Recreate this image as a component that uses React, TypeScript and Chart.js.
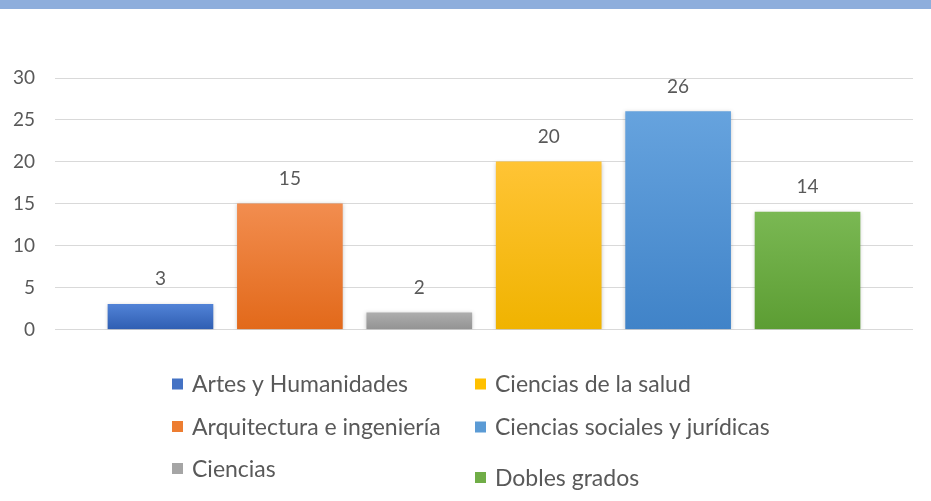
import { useEffect, useRef } from "react";
import { Chart, registerables } from "chart.js";

Chart.register(...registerables);

// ---- data ----
const categories = [
  "Artes y Humanidades",
  "Arquitectura e ingeniería",
  "Ciencias",
  "Ciencias de la salud",
  "Ciencias sociales y jurídicas",
  "Dobles grados",
];
const values = [3, 15, 2, 20, 26, 14];
const yMin = 0;
const yMax = 30;
const yStep = 5;

// ---- styles ----
const baseColors = ["#4472C4", "#ED7D31", "#A5A5A5", "#FFC000", "#5B9BD5", "#70AD47"];
const topColors = ["#5182D6", "#F28D4F", "#ADADAD", "#FFC435", "#66A3DE", "#7AB853"];
const bottomColors = ["#2F5EB2", "#E2691A", "#939393", "#F0B300", "#4083C8", "#5C9D33"];
const legendColumns = [
  [0, 1, 2],
  [3, 4, 5],
];

const FONT = "Lato, 'Open Sans', sans-serif";
const TEXT = "#595959";

const dataLabels = {
  id: "dataLabels",
  afterDatasetsDraw(chart: any) {
    const ctx = chart.ctx;
    const meta = chart.getDatasetMeta(0);
    ctx.save();
    ctx.font = `19px ${FONT}`;
    ctx.fillStyle = TEXT;
    ctx.textAlign = "center";
    ctx.textBaseline = "alphabetic";
    meta.data.forEach((bar: any, i: number) => {
      ctx.fillText(String(values[i]), bar.x, bar.y - 19);
    });
    ctx.restore();
  },
};

const barShadow = {
  id: "barShadow",
  beforeDatasetDraw(chart: any) {
    const ctx = chart.ctx;
    ctx.save();
    ctx.shadowColor = "rgba(0,0,0,0.22)";
    ctx.shadowBlur = 4;
    ctx.shadowOffsetX = 0;
    ctx.shadowOffsetY = 1;
  },
  afterDatasetDraw(chart: any) {
    chart.ctx.restore();
  },
};

const columnLegend = {
  id: "columnLegend",
  afterDraw(chart: any) {
    const ctx = chart.ctx;
    const colX = [172, 475];
    const rowY = [
      [384, 426.5, 468.5],
      [384, 427, 477.5],
    ];
    ctx.save();
    ctx.font = `23px ${FONT}`;
    ctx.textAlign = "left";
    ctx.textBaseline = "alphabetic";
    legendColumns.forEach((col, c) => {
      col.forEach((idx, r) => {
        const cy = rowY[c][r];
        ctx.fillStyle = baseColors[idx];
        ctx.fillRect(colX[c], cy - 5.5, 11, 11);
        ctx.fillStyle = TEXT;
        ctx.fillText(categories[idx], colX[c] + 20, cy + 8.3);
      });
    });
    ctx.restore();
  },
};

export default function App() {
  const ref = useRef<HTMLCanvasElement | null>(null);

  useEffect(() => {
    if (!ref.current) return;
    const chart = new Chart(ref.current, {
      type: "bar",
      data: {
        labels: categories,
        datasets: [
          {
            label: "Alumnos",
            data: values.map((v, i) => ({ x: i, y: v })) as any,
            barThickness: 105,
            borderWidth: 0,
            backgroundColor: (c: any) => {
              const i = c.dataIndex;
              const chartRef = c.chart;
              const area = chartRef.chartArea;
              const ys = chartRef.scales?.y;
              if (!area || !ys || i === undefined) return baseColors[i ?? 0];
              const top = ys.getPixelForValue(values[i]);
              const g = chartRef.ctx.createLinearGradient(0, top, 0, area.bottom);
              g.addColorStop(0, topColors[i]);
              g.addColorStop(1, bottomColors[i]);
              return g;
            },
          },
        ],
      },
      options: {
        animation: false,
        responsive: false,
        devicePixelRatio: 1,
        layout: { padding: { top: 78, bottom: 171.5, left: 0, right: 18 } },
        plugins: {
          legend: { display: false },
          tooltip: { enabled: false },
          title: { display: false },
        },
        scales: {
          x: {
            type: "linear",
            min: -0.815,
            max: 5.815,
            offset: false,
            display: false,
          },
          y: {
            min: yMin,
            max: yMax,
            border: { display: false },
            grid: { color: "#D9D9D9", lineWidth: 1, drawTicks: false },
            ticks: {
              stepSize: yStep,
              padding: 20,
              color: TEXT,
              font: { family: FONT, size: 19 },
            },
            afterFit: (s: any) => {
              s.width = 55;
            },
          },
        },
      },
      plugins: [barShadow, dataLabels, columnLegend],
    });
    return () => chart.destroy();
  }, []);

  return (
    <div
      style={{
        position: "fixed",
        left: 0,
        top: 0,
        width: 931,
        height: 501,
        background: "#FFFFFF",
        overflow: "hidden",
      }}
    >
      <canvas ref={ref} width={931} height={501} style={{ display: "block" }} />
      <div
        style={{
          position: "absolute",
          left: 0,
          top: 0,
          width: 931,
          height: 9,
          background: "#8EAEDC",
        }}
      />
    </div>
  );
}
